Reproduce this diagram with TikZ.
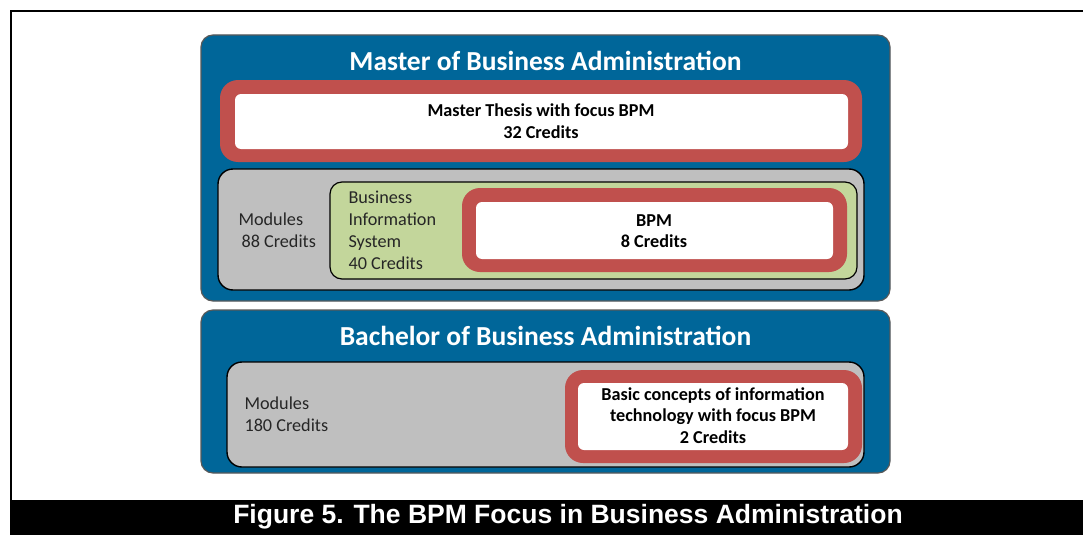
\documentclass[tikz,border=0pt]{standalone}
\usepackage{fontspec}
\setmainfont{Carlito}
\newfontfamily\capfont{Liberation Sans}
\definecolor{mblue}{RGB}{0,102,153}
\definecolor{mred}{RGB}{192,80,77}
\definecolor{mgray}{RGB}{191,191,191}
\definecolor{mgreen}{RGB}{195,214,155}
\tikzset{
  box/.style={inner sep=0pt, outer sep=0pt},
  bluebox/.style={box, fill=mblue, draw=black!65, line width=1.2pt, rounded corners=12pt},
  redbox/.style={box, fill=mred, rounded corners=18pt},
  whitebox/.style={box, fill=white, rounded corners=6pt},
  graybox/.style={box, fill=mgray, draw=black, line width=1.4pt, rounded corners=15pt},
  greenbox/.style={box, fill=mgreen, draw=black, line width=1.2pt, rounded corners=12pt},
  title/.style={text=white, font=\bfseries\fontsize{27.5}{31}\selectfont},
  btext/.style={align=center, font=\bfseries\fontsize{18.2}{21.5}\selectfont},
  ntext/.style={align=left, font=\fontsize{18.2}{22}\selectfont, text=black!85},
}
\begin{document}
\begin{tikzpicture}[x=1pt,y=-1pt]
\useasboundingbox (0,0) rectangle (1083,535);
\fill[white] (0,0) rectangle (1083,535);
\coordinate (fr) at (1083,11);
\coordinate (ftl) at (11,11);
\coordinate (fbl) at (11,500);
\draw[line width=2.5pt] (fr) -- (ftl) -- (fbl);
\node[box, fill=black, minimum width=1073pt, minimum height=35pt, anchor=north west] (band) at (10,500) {};
\node[text=white, font=\capfont\bfseries\fontsize{26.5}{30}\selectfont] (cap) at (568,517) {Figure 5. The BPM Focus in Business Administration};

% Master
\node[bluebox, minimum width=689pt, minimum height=266pt] (master) at (545.5,168) {};
\node[title] (mtitle) at (545.5,61) {Master of Business Administration};
\node[redbox, minimum width=642pt, minimum height=82pt] (thesisR) at (541,121) {};
\node[whitebox, minimum width=613pt, minimum height=55pt] (thesisW) at (541.5,121.5) {};
\node[btext] (thesisT) at (541,121) {Master Thesis with focus BPM\\32 Credits};
\node[graybox, minimum width=646pt, minimum height=121pt] (mods) at (541,229.5) {};
\node[ntext, anchor=west] (modsT) at (235,230) {Modules\\\hspace{3pt}88 Credits};
\node[greenbox, minimum width=527pt, minimum height=97pt] (bis) at (593.5,230.5) {};
\node[ntext, anchor=west] (bisT) at (345,230.5) {Business\\Information\\System\\40 Credits};
\node[redbox, minimum width=385pt, minimum height=84pt] (bpmR) at (654.5,230) {};
\node[whitebox, minimum width=357pt, minimum height=57pt] (bpmW) at (654.5,230.5) {};
\node[btext] (bpmT) at (654,231) {BPM\\8 Credits};

% Bachelor
\node[bluebox, minimum width=689pt, minimum height=163pt] (bach) at (545.5,391.5) {};
\node[title] (btitle) at (545.5,336) {Bachelor of Business Administration};
\node[graybox, minimum width=637pt, minimum height=105pt] (bmods) at (545.5,414.5) {};
\node[ntext, anchor=west] (bmodsT) at (241,414) {Modules\\180 Credits};
\node[redbox, minimum width=297pt, minimum height=93pt] (basicR) at (713.5,416.5) {};
\node[whitebox, minimum width=270pt, minimum height=67pt] (basicW) at (713,416.5) {};
\node[btext] (basicT) at (713,415.5) {Basic concepts of information\\technology with focus BPM\\2 Credits};
\end{tikzpicture}
\end{document}
